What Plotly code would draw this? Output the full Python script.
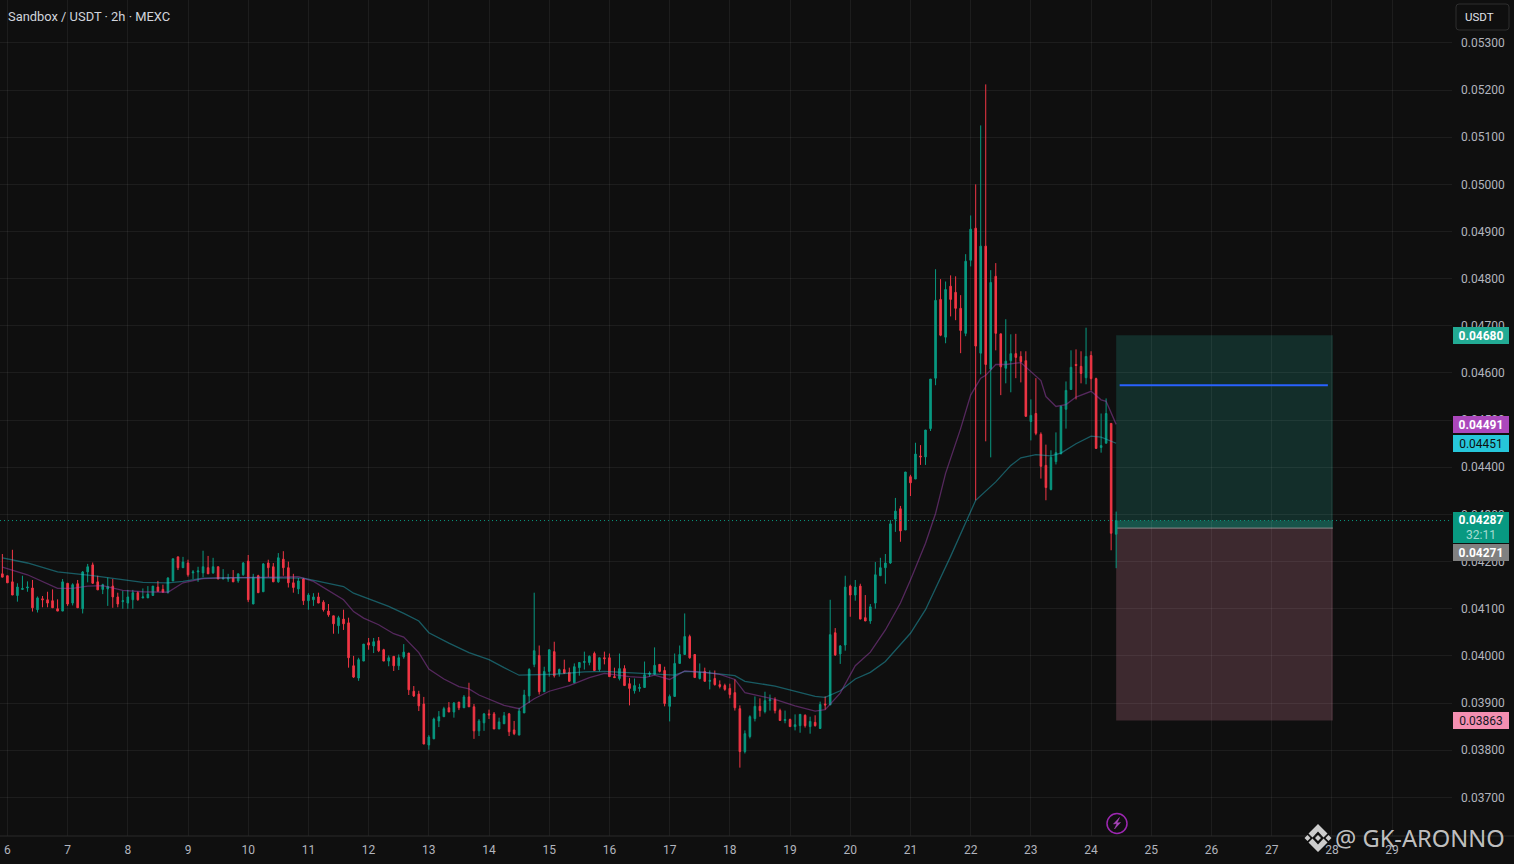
import pandas as pd
import plotly.graph_objects as go

# prices are in units of 0.00001 USDT
opens = [4174,4170,4157,4128,4141,4144,4144,4098,4121,4119,
4117,4100,4095,4154,4112,4153,4100,4178,4193,4157,
4141,4142,4148,4125,4115,4112,4119,4134,4123,4123,
4128,4146,4141,4135,4159,4210,4187,4197,4176,4178,
4176,4187,4176,4189,4163,4163,4165,4159,4172,4201,
4110,4170,4136,4197,4189,4157,4205,4187,4155,4142,
4163,4117,4119,4125,4114,4095,4085,4064,4078,4070,
3979,3953,3989,4028,4021,4032,4013,3989,3999,3979,
3998,4006,3925,3919,3898,3811,3824,3862,3871,3890,
3881,3902,3890,3913,3892,3841,3858,3877,3877,3845,
3856,3877,3843,3832,3879,3915,3982,4001,3924,3967,
4009,3963,3971,3965,3943,3975,3986,3986,4005,3971,
3996,3996,3956,3952,3973,3941,3926,3931,3933,3961,
3961,3982,3969,3893,3914,3984,4003,4041,4003,3952,
3967,3946,3952,3939,3937,3931,3922,3888,3797,3829,
3867,3893,3882,3905,3907,3884,3863,3865,3850,3852,
3874,3850,3859,3846,3898,3896,4049,4004,4023,4148,
4129,4148,4081,4074,4112,4170,4187,4197,4290,4312,
4267,4380,4375,4424,4422,4482,4589,4756,4676,4784,
4771,4737,4684,4839,4907,4642,4869,4608,4805,4683,
4610,4626,4641,4635,4626,4497,4514,4470,4404,4353,
4412,4429,4523,4565,4618,4614,4590,4637,4588,4442,
4451,4493,4258]
highs = [4216,4170,4225,4154,4170,4158,4161,4126,4127,4136,
4141,4120,4163,4154,4154,4161,4180,4195,4198,4170,
4153,4166,4163,4134,4138,4140,4140,4137,4143,4148,
4148,4159,4151,4167,4206,4210,4210,4204,4182,4189,
4223,4212,4208,4189,4184,4174,4182,4174,4199,4214,
4174,4172,4197,4204,4197,4218,4222,4200,4174,4165,
4165,4133,4133,4134,4118,4110,4085,4085,4098,4081,
4000,3996,4025,4038,4038,4040,4015,4001,3999,4003,
4025,4006,3936,3926,3913,3832,3869,3883,3892,3902,
3902,3902,3917,3943,3898,3866,3879,3886,3881,3869,
3881,3879,3862,3890,3928,3974,4134,4022,3977,4013,
4030,3973,3992,3975,3984,3986,4009,4001,4009,3996,
4009,4005,3975,4005,3980,3953,3952,3941,3988,3967,
4018,3982,3977,3918,4005,4022,4090,4045,4003,3984,
3975,3969,3969,3948,3941,3941,3950,3895,3842,3874,
3914,3910,3924,3918,3912,3888,3884,3867,3876,3876,
3876,3871,3874,3903,3914,4119,4059,4023,4170,4151,
4161,4153,4129,4110,4199,4208,4216,4288,4335,4318,
4390,4384,4452,4447,4479,4587,4820,4799,4794,4807,
4805,4765,4852,4934,5000,5125,5212,4818,4833,4683,
4714,4682,4683,4646,4646,4544,4589,4474,4448,4436,
4474,4531,4582,4648,4650,4646,4696,4646,4590,4514,
4546,4493,4306]
lows = [4167,4155,4129,4115,4140,4136,4094,4092,4103,4103,
4102,4095,4095,4106,4107,4102,4090,4156,4153,4140,
4131,4106,4102,4103,4100,4100,4100,4117,4122,4123,
4128,4137,4135,4132,4159,4182,4187,4168,4163,4157,
4167,4174,4174,4163,4163,4157,4157,4155,4170,4114,
4110,4134,4136,4167,4157,4155,4170,4145,4134,4131,
4108,4098,4106,4112,4094,4083,4047,4047,4055,3975,
3953,3947,3989,4013,4006,4008,3989,3978,3968,3970,
3994,3917,3913,3883,3813,3801,3824,3849,3871,3881,
3869,3885,3890,3892,3824,3830,3841,3866,3845,3845,
3856,3830,3832,3832,3879,3900,3976,3918,3924,3956,
3954,3956,3963,3946,3943,3958,3971,3980,3969,3967,
3982,3956,3954,3948,3937,3895,3920,3924,3933,3956,
3961,3965,3893,3861,3914,3984,4003,3994,3954,3950,
3946,3929,3937,3931,3926,3910,3884,3763,3793,3825,
3861,3871,3878,3884,3878,3863,3857,3850,3842,3837,
3848,3835,3850,3846,3886,3896,4000,3983,4011,4083,
4117,4078,4074,4068,4100,4170,4153,4195,4263,4242,
4267,4339,4375,4405,4405,4477,4574,4678,4663,4720,
4712,4642,4678,4826,4330,4597,4455,4421,4648,4553,
4578,4559,4589,4580,4508,4457,4468,4376,4330,4351,
4406,4427,4482,4565,4544,4578,4576,4563,4440,4431,
4451,4224,4186]
closes = [4167,4155,4129,4146,4143,4146,4102,4123,4119,4112,
4102,4095,4157,4110,4151,4102,4178,4189,4154,4140,
4151,4147,4125,4110,4117,4125,4134,4119,4125,4131,
4148,4137,4135,4165,4206,4187,4199,4172,4178,4180,
4189,4174,4189,4163,4165,4165,4157,4174,4197,4119,
4167,4134,4195,4187,4157,4208,4187,4155,4145,4159,
4117,4129,4125,4112,4098,4087,4068,4081,4068,3996,
3955,3992,4025,4023,4030,4011,3989,3996,3979,3996,
4008,3928,3915,3894,3813,3828,3866,3871,3888,3881,
3900,3890,3913,3892,3841,3862,3877,3875,3845,3860,
3873,3839,3835,3883,3917,3971,4011,3924,3967,4013,
3958,3971,3963,3946,3977,3986,3988,3999,3969,3996,
3994,3956,3954,3973,3937,3931,3937,3933,3960,3963,
3980,3967,3899,3914,3984,4003,4041,3996,3954,3965,
3946,3948,3939,3935,3929,3918,3890,3797,3835,3871,
3893,3884,3905,3907,3884,3863,3865,3850,3854,3876,
3852,3861,3852,3897,3896,4045,4002,4021,4146,4129,
4146,4078,4074,4104,4172,4187,4197,4280,4307,4265,
4390,4367,4428,4422,4479,4587,4754,4680,4777,4756,
4737,4690,4837,4905,4657,4869,4618,4792,4684,4613,
4625,4641,4633,4624,4508,4510,4472,4402,4357,4421,
4431,4529,4563,4612,4616,4599,4635,4588,4440,4446,
4514,4260,4287]

# moving-average lines, read at candle numbers (0 = first candle of day 6)
fast_at = [-1,4,10,13,16,19,23,27,32,35,39,45,54,58,61,65,67,69,71,74,77,79,82,84,87,90,92,94,96,99,102,105,108,112,116,119,124,127,129,132,135,139,142,145,147,153,157,161,163,166,169,172,175,178,180,183,185,187,190,192,194,195,197,199,202,204,206,207,209,211,213,216,218,219,221]
fast_ma = [4188,4172,4143,4143,4148,4149,4139,4136,4135,4155,4164,4166,4167,4168,4158,4133,4119,4094,4080,4066,4047,4040,4007,3972,3951,3935,3930,3917,3908,3895,3888,3909,3925,3937,3954,3963,3956,3954,3959,3950,3968,3965,3961,3950,3922,3908,3894,3883,3886,3921,3979,4008,4055,4112,4161,4239,4302,4387,4482,4553,4589,4595,4618,4618,4622,4602,4584,4550,4529,4533,4549,4561,4543,4540,4491]
slow_at = [-1,4,10,17,27,32,35,39,45,54,59,63,67,69,72,76,79,82,84,88,92,96,99,102,109,115,119,125,133,135,139,145,147,153,157,161,163,166,169,172,175,178,180,183,185,188,193,197,200,202,205,208,210,213,216,218,221]
slow_ma = [4208,4197,4178,4170,4156,4155,4158,4165,4166,4165,4165,4156,4147,4133,4121,4105,4090,4074,4049,4027,4007,3992,3975,3959,3961,3966,3967,3963,3959,3967,3965,3958,3946,3936,3925,3914,3912,3926,3951,3965,3988,4023,4048,4098,4143,4211,4330,4369,4404,4420,4427,4424,4430,4450,4466,4464,4451]

day_ticks = list(range(6, 30))
price_ticks = [3700 + 100 * k for k in range(17)]

last_price = 4287
countdown = "32:11"
target_price = 4680
entry_price = 4271
stop_price = 3863
blue_level = 4574
fast_last = 4491
slow_last = 4451

BG = "#0f0f0f"
GRID = "rgba(255,255,255,0.06)"
UP = "#089981"
DOWN = "#f23645"
TXT = "#b2b5be"

W, H = 1514, 864
PW, PH = 1452, 836


def px(x):
    return x / PW


def py(y):
    return 1 - y / PH


first = pd.Timestamp("2025-10-06 00:00")
STEP = pd.Timedelta(hours=2)


def at(n):
    return first + STEP * n


dates = [at(n - 1) for n in range(len(opens))]
scale = lambda v: [a / 1e5 for a in v]

fig = go.Figure()
fig.add_trace(go.Candlestick(
    x=dates, open=scale(opens), high=scale(highs), low=scale(lows), close=scale(closes),
    increasing=dict(line=dict(color=UP, width=1), fillcolor=UP),
    decreasing=dict(line=dict(color=DOWN, width=1), fillcolor=DOWN),
    whiskerwidth=0, showlegend=False, hoverinfo="skip",
))
fig.add_trace(go.Scatter(x=[at(n) for n in slow_at], y=scale(slow_ma), mode="lines",
                         line=dict(color="rgba(38,198,218,0.42)", width=1.3),
                         showlegend=False, hoverinfo="skip"))
fig.add_trace(go.Scatter(x=[at(n) for n in fast_at], y=scale(fast_ma), mode="lines",
                         line=dict(color="rgba(171,71,188,0.45)", width=1.3),
                         showlegend=False, hoverinfo="skip"))

box_x0, box_x1 = at(221), at(264.2)
shapes = [
    dict(type="rect", layer="below", xref="x", yref="y", x0=box_x0, x1=box_x1,
         y0=entry_price / 1e5, y1=target_price / 1e5, fillcolor="rgba(34,171,148,0.2)", line_width=0),
    dict(type="rect", layer="below", xref="x", yref="y", x0=box_x0, x1=box_x1,
         y0=stop_price / 1e5, y1=entry_price / 1e5, fillcolor="rgba(244,143,177,0.2)", line_width=0),
    dict(type="rect", layer="below", xref="x", yref="y", x0=box_x0, x1=box_x1,
         y0=entry_price / 1e5, y1=last_price / 1e5, fillcolor="rgba(34,171,148,0.3)", line_width=0),
    dict(type="line", layer="below", xref="x", yref="y", x0=box_x0, x1=box_x1,
         y0=entry_price / 1e5, y1=entry_price / 1e5, line=dict(color="#8a8a8a", width=1)),
    dict(type="line", xref="x", yref="y", x0=at(221.7), x1=at(263.2),
         y0=blue_level / 1e5, y1=blue_level / 1e5, line=dict(color="#2962ff", width=2)),
    dict(type="line", xref="paper", yref="y", x0=0, x1=1,
         y0=last_price / 1e5, y1=last_price / 1e5, line=dict(color=UP, width=1, dash="1px,3px")),
    dict(type="line", xref="paper", yref="paper", x0=0, x1=W / PW, y0=0, y1=0,
         line=dict(color="#2a2a2a", width=1)),
    # USDT button
    dict(type="path", xref="paper", yref="paper",
         path=f"M {px(1459)} {py(4)} L {px(1506)} {py(4)} Q {px(1509)} {py(4)} {px(1509)} {py(7)} "
              f"L {px(1509)} {py(27)} Q {px(1509)} {py(30)} {px(1506)} {py(30)} L {px(1459)} {py(30)} "
              f"Q {px(1456)} {py(30)} {px(1456)} {py(27)} L {px(1456)} {py(7)} Q {px(1456)} {py(4)} {px(1459)} {py(4)} Z",
         line=dict(color="#2e2e2e", width=1), fillcolor=BG),
    # flash icon
    dict(type="circle", xref="paper", yref="paper", x0=px(1107), x1=px(1127), y0=py(813.5), y1=py(833.5),
         line=dict(color="#9c27b0", width=1.5), fillcolor=BG),
    dict(type="path", xref="paper", yref="paper",
         path=f"M {px(1119.5)} {py(817.5)} L {px(1113.5)} {py(824)} L {px(1117)} {py(823.5)} "
              f"L {px(1114.5)} {py(829)} L {px(1120.5)} {py(822.5)} L {px(1117)} {py(823)} Z",
         line=dict(color="#ab47bc", width=0.5), fillcolor="#ab47bc"),
]


def diamond(cx, cy, r):
    return (f"M {px(cx - r)} {py(cy)} L {px(cx)} {py(cy - r)} L {px(cx + r)} {py(cy)} "
            f"L {px(cx)} {py(cy + r)} Z ")


def chevron(cx, cy, d):
    # d=-1 up, d=1 down
    return (f"M {px(cx - 9.5)} {py(cy + d * 4.5)} L {px(cx)} {py(cy + d * 14)} L {px(cx + 9.5)} {py(cy + d * 4.5)} "
            f"L {px(cx + 5.5)} {py(cy + d * 0.5)} L {px(cx)} {py(cy + d * 6.5)} L {px(cx - 5.5)} {py(cy + d * 0.5)} Z ")


LOGO = "rgba(220,220,220,0.92)"
logo_path = (diamond(1318, 838, 3) + diamond(1307.5, 838, 3) + diamond(1328.5, 838, 3)
             + chevron(1318, 838, -1) + chevron(1318, 838, 1))
shapes.append(dict(type="path", xref="paper", yref="paper", path=logo_path, fillcolor=LOGO, line_width=0))

FONT = "Roboto"


def tag(price, text, bg, color="#ffffff", height=17, yshift=0):
    return dict(xref="paper", yref="y", x=px(1453), y=price / 1e5, xanchor="left", yanchor="middle",
                text=text, showarrow=False, bgcolor=bg, width=56, height=height, align="center",
                borderpad=0, borderwidth=0, yshift=yshift, font=dict(family=FONT, size=12, color=color))


annotations = [
    dict(xref="paper", yref="paper", x=px(8), y=py(16.5), xanchor="left", yanchor="middle",
         borderpad=0, borderwidth=0,
         text="Sandbox / USDT · 2h · MEXC", showarrow=False, font=dict(family=FONT, size=12.9, color="#d1d4dc")),
    dict(xref="paper", yref="paper", x=px(1479), y=py(17), xanchor="center", yanchor="middle",
         text="USDT", showarrow=False, font=dict(family=FONT, size=11.5, color="#e0e3eb")),
    tag(target_price, f"<b>{target_price / 1e5:.5f}</b>", "#22ab94"),
    tag(fast_last, f"<b>{fast_last / 1e5:.5f}</b>", "#ab47bc"),
    tag(slow_last, f"{slow_last / 1e5:.5f}", "#26c6da", color="#0f0f0f"),
    tag(last_price, f"<b>{last_price / 1e5:.5f}</b><br><span style='color:#a5dcd2'>{countdown}</span>",
        UP, height=31, yshift=-7),
    tag(entry_price, f"<b>{entry_price / 1e5:.5f}</b>", "#808080", yshift=-24),
    tag(stop_price, f"{stop_price / 1e5:.5f}", "#f48fb1", color="#131722"),
    dict(xref="paper", yref="paper", x=px(1505), y=py(838), xanchor="right", yanchor="middle",
         borderpad=0, borderwidth=0,
         text="@ GK-ARONNO", showarrow=False, font=dict(family="Noto Sans", size=23.7, color="rgba(215,215,215,0.9)")),
]

fig.update_layout(
    width=W, height=H,
    margin=dict(l=0, r=W - PW, t=0, b=H - PH, pad=0),
    paper_bgcolor=BG, plot_bgcolor=BG,
    showlegend=False, hovermode=False, dragmode=False,
    boxgap=0.55,
    shapes=shapes, annotations=annotations,
    xaxis=dict(
        type="date",
        range=[at(-7.4 / 5.017), at((PW - 7.4) / 5.017)],
        rangeslider=dict(visible=False),
        tickvals=[pd.Timestamp(2025, 10, d) for d in day_ticks],
        ticktext=[str(d) for d in day_ticks],
        showgrid=True, gridcolor=GRID, gridwidth=1,
        zeroline=False, showline=False, ticks="",
        tickfont=dict(family=FONT, size=12, color=TXT),
        ticklabelstandoff=5,
    ),
    yaxis=dict(
        side="right",
        range=[0.03618, 0.05391],
        tickvals=[p / 1e5 for p in price_ticks],
        ticktext=[f"{p / 1e5:.5f}" for p in price_ticks],
        showgrid=True, gridcolor=GRID, gridwidth=1,
        zeroline=False, showline=False, ticks="",
        tickfont=dict(family=FONT, size=12, color=TXT),
        ticklabelstandoff=8,
    ),
)

fig.write_html("out.html", config=dict(displayModeBar=False),
               post_script="document.body.style.margin='0';document.body.style.background='#0f0f0f';document.body.style.overflow='hidden';")
